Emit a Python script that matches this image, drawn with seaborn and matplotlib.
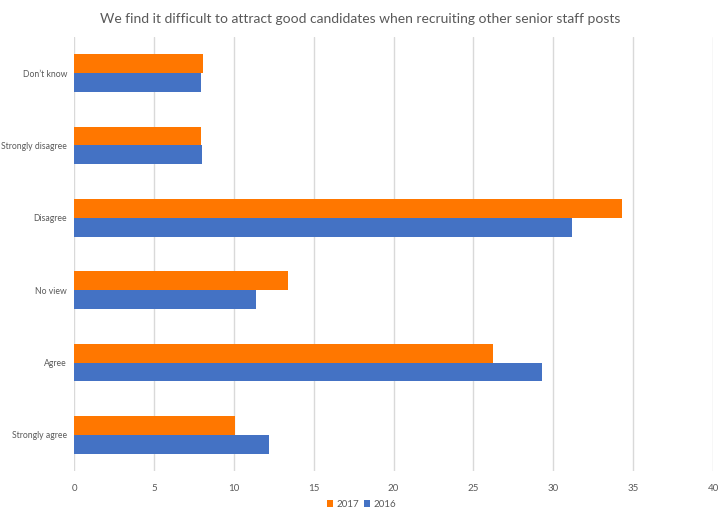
import pandas as pd
import matplotlib.pyplot as plt
import seaborn as sns

categories = ["Don\u2019t know", "Strongly disagree", "Disagree", "No view", "Agree", "Strongly agree"]
values_2017 = [8.1, 7.95, 34.3, 13.4, 26.2, 10.1]
values_2016 = [7.95, 8.0, 31.2, 11.4, 29.3, 12.2]
years = ["2017", "2016"]

df = pd.DataFrame({
    "Response": categories * 2,
    "Year": ["2017"] * len(categories) + ["2016"] * len(categories),
    "Percent": values_2017 + values_2016,
})

sns.set_style("white")
plt.rcParams['font.family'] = ['Lato', 'DejaVu Sans']

fig = plt.figure(figsize=(7.2, 5.18), dpi=100)
ax = fig.add_axes([0.1028, 0.0907, 0.8875, 0.8379])

sns.barplot(data=df, y="Response", x="Percent", hue="Year", order=categories,
            hue_order=years, palette=["#FF7700", "#4472C4"], orient="h",
            width=0.525, gap=0, saturation=1, ax=ax, errorbar=None, linewidth=0)

ax.set_xlim(0, 40)
ax.set_xticks(range(0, 41, 5))
ax.grid(axis="x", color="#D9D9D9", linewidth=1)
ax.set_axisbelow(True)
for s in ax.spines.values():
    s.set_visible(False)
ax.tick_params(axis="both", length=0, labelcolor="#595959")
ax.tick_params(axis="x", pad=9, labelsize=7)
ax.tick_params(axis="y", pad=5, labelsize=6.2)
ax.set_xlabel("")
ax.set_ylabel("")

ax.legend(loc="center", bbox_to_anchor=(0.45, -0.077), ncol=2, frameon=False,
          fontsize=7, labelcolor="#595959", handlelength=0.6, handleheight=0.8,
          handletextpad=0.3, columnspacing=0.6)

fig.suptitle("We find it difficult to attract good candidates when recruiting other senior staff posts",
             y=0.975, fontsize=10, color="#595959")

fig.savefig("out.png", dpi=100)
